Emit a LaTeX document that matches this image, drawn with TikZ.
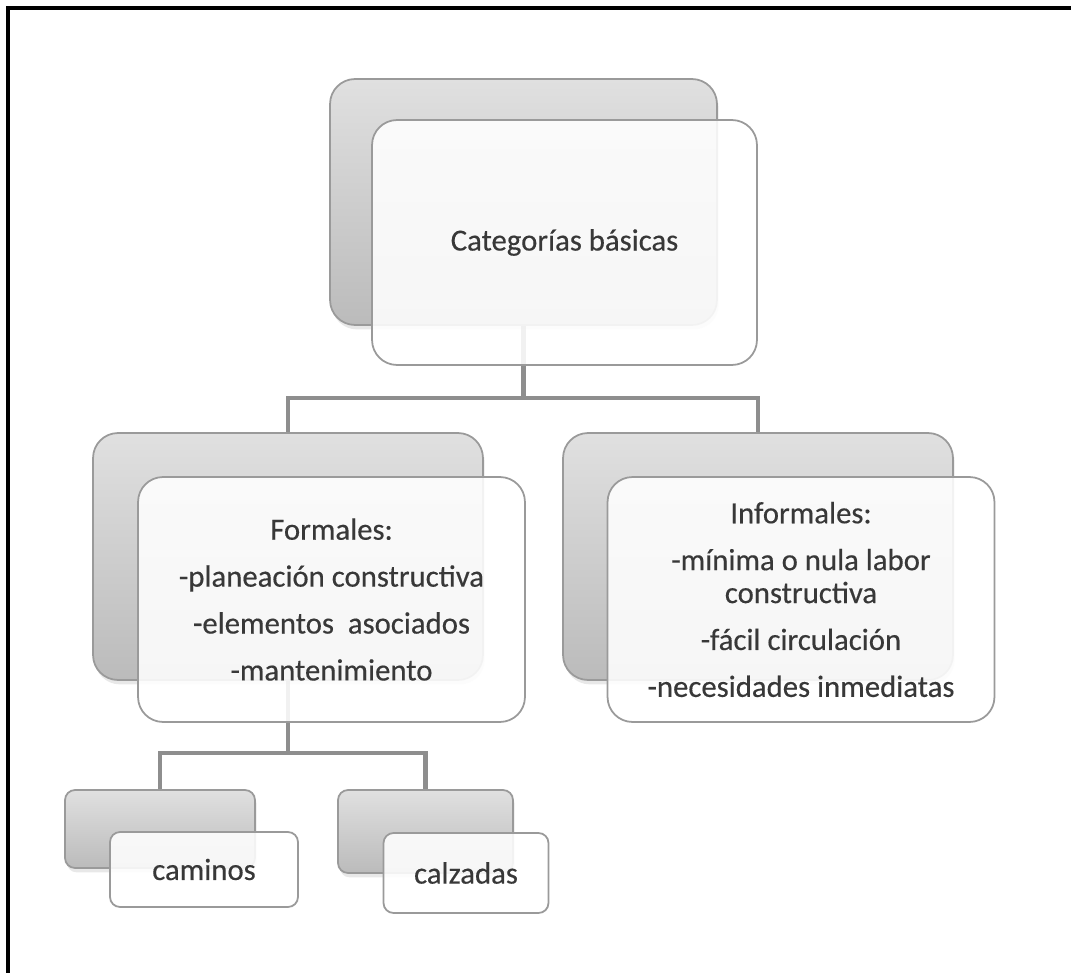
\documentclass[tikz,border=0pt]{standalone}
\usepackage{fontspec}
\setmainfont{Carlito}
\newfontfamily\boxfont{Carlito}[FakeBold=0.35]
\usetikzlibrary{shadows}
\pgfdeclarelayer{bg}
\pgfsetlayers{bg,main}
\definecolor{boxline}{HTML}{9A9A9A}
\definecolor{conncol}{HTML}{8E8E8E}
\definecolor{txt}{HTML}{383838}
\definecolor{topg}{HTML}{E0E0E0}
\definecolor{botg}{HTML}{BBBBBB}
\tikzset{
  backbox/.style={draw=boxline, line width=1pt, top color=topg, bottom color=botg,
    rounded corners=0.5cm, inner sep=0pt,
    drop shadow={shadow xshift=1pt, shadow yshift=-2.5pt, opacity=0.18}},
  frontbox/.style={draw=boxline, line width=1pt, fill=white, fill opacity=0.88,
    text opacity=1, text=txt, rounded corners=0.5cm, inner sep=0pt, align=center,
    font=\boxfont\fontsize{17.5}{18.7}\selectfont},
  smallr/.style={rounded corners=0.2cm},
  conn/.style={draw=conncol, line width=2.3pt},
  frame/.style={draw=black, line width=2.2pt}
}
\begin{document}
\begin{tikzpicture}[x=0.02cm, y=-0.02cm]
\useasboundingbox (0,0) rectangle (1071,973);

% top
\node[backbox, minimum width=7.74cm, minimum height=4.92cm] (tb) at (523.5,202) {};
\node[frontbox, minimum width=7.7cm, minimum height=4.9cm] (tf) at (564.5,242.5) {Categorías básicas};

% middle
\node[backbox, minimum width=7.8cm, minimum height=4.94cm] (lb) at (288,556.5) {};
\node[frontbox, minimum width=7.74cm, minimum height=4.9cm] (lf) at (331.5,599.5)
  {Formales:\\[8pt]-planeación constructiva\\[8pt]-elementos~ asociados\\[8pt]-mantenimiento};

\node[backbox, minimum width=7.8cm, minimum height=4.94cm] (rb) at (758,556.5) {};
\node[frontbox, minimum width=7.74cm, minimum height=4.9cm] (rf) at (801,599.5)
  {Informales:\\[8pt]-mínima o nula labor\\constructiva\\[8pt]-fácil circulación\\[8pt]-necesidades inmediatas};

% bottom
\node[backbox, smallr, minimum width=3.8cm, minimum height=1.56cm] (blb) at (160,829) {};
\node[frontbox, smallr, minimum width=3.76cm, minimum height=1.5cm] (blf) at (204,869.5) {caminos};

\node[backbox, smallr, minimum width=3.5cm, minimum height=1.66cm] (brb) at (425.5,831.5) {};
\node[frontbox, smallr, minimum width=3.3cm, minimum height=1.6cm] (brf) at (466,873) {calzadas};

\coordinate (h1) at (0,398);
\coordinate (h2) at (0,753);
\begin{pgfonlayer}{bg}
\fill[white] (-5,-5) rectangle (1080,980);
\draw[frame] (8,985) -- (8,8) -- (1085,8);
\draw[conn] (tb.south) -- (tb.south |- h1) -| (lb.north);
\draw[conn] (tb.south |- h1) -| (rb.north);
\draw[conn] (lb.south) -- (lb.south |- h2) -| (blb.north);
\draw[conn] (lb.south |- h2) -| (brb.north);
\end{pgfonlayer}
\end{tikzpicture}
\end{document}
